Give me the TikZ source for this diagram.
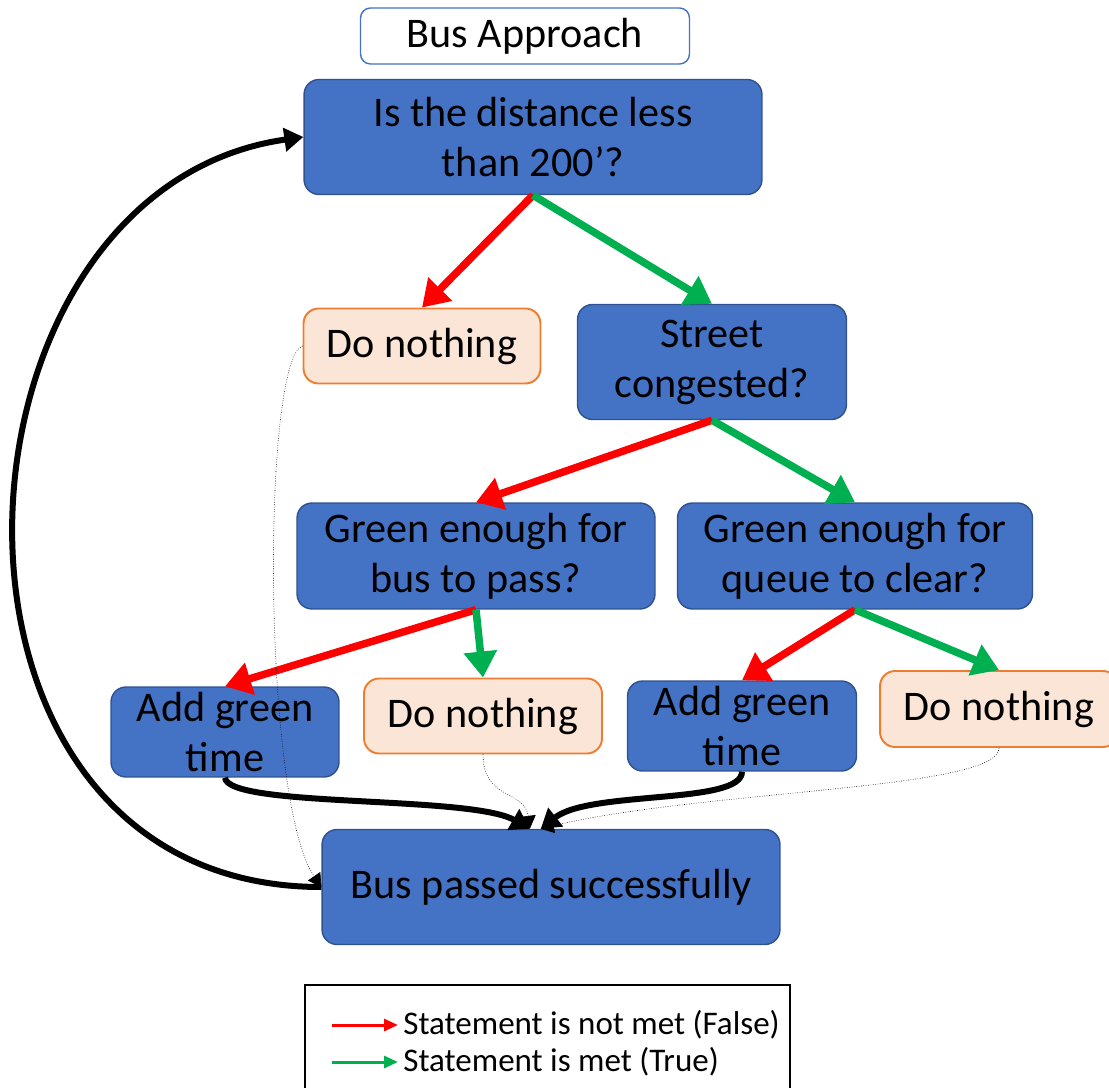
\documentclass[tikz,border=0pt]{standalone}
\usepackage{fontspec}
\setmainfont{Carlito}
\usetikzlibrary{arrows.meta}
\definecolor{boxblue}{HTML}{4472C4}
\definecolor{edgeblue}{HTML}{2F528F}
\definecolor{peach}{HTML}{FBE5D6}
\definecolor{edgeorange}{HTML}{ED7D31}
\definecolor{falsered}{HTML}{FF0000}
\definecolor{truegreen}{HTML}{00B050}
\tikzset{
	bluebox/.style={draw=edgeblue,line width=0.8pt,fill=boxblue,rounded corners=0.3cm,align=center,inner sep=0pt,font=\fontsize{24}{28.4}\selectfont},
	orangebox/.style={draw=edgeorange,line width=1.1pt,fill=peach,rounded corners=0.3cm,align=center,inner sep=0pt,font=\fontsize{24}{28.4}\selectfont},
	titlebox/.style={draw=boxblue,line width=0.8pt,fill=white,rounded corners=0.2cm,align=center,inner sep=0pt,font=\fontsize{24}{28.4}\selectfont},
	falsearrow/.style={draw=falsered,line width=0.15cm,-{Triangle[width=0.64cm,length=0.52cm]},falsered},
	truearrow/.style={draw=truegreen,line width=0.15cm,-{Triangle[width=0.64cm,length=0.52cm]},truegreen},
	backarrow/.style={draw=black,line width=0.12cm,-{Triangle[width=0.46cm,length=0.38cm]}},
	dotline/.style={draw=black,line width=0.35pt,densely dotted,-{Triangle[width=0.3cm,length=0.26cm]}},
	legendtext/.style={inner sep=0.1cm,font=\fontsize{18.8}{21}\selectfont}
}
\begin{document}
\begin{tikzpicture}[x=0.02cm,y=-0.02cm]
			\useasboundingbox (0,0) rectangle (1109,1088);
			\node[titlebox,minimum width=6.58cm,minimum height=1.12cm] (title) at (525,36) {Bus Approach};
			\node[bluebox,minimum width=9.16cm,minimum height=2.3cm] (q1) at (533,137) {Is the distance less\\than 200’?};
			\node[orangebox,minimum width=4.74cm,minimum height=1.5cm] (dn1) at (422,346) {Do nothing};
			\node[bluebox,minimum width=5.38cm,minimum height=2.3cm] (street) at (712,362) {Street\\congested?};
			\node[bluebox,minimum width=7.16cm,minimum height=2.12cm] (gbus) at (476,556) {Green enough for\\bus to pass?};
			\node[bluebox,minimum width=7.1cm,minimum height=2.12cm] (gqueue) at (855,556) {Green enough for\\queue to clear?};
			\node[bluebox,minimum width=4.56cm,minimum height=1.8cm] (ag1) at (225,732) {Add green\\time};
			\node[orangebox,minimum width=4.76cm,minimum height=1.5cm] (dn2) at (483,716) {Do nothing};
			\node[bluebox,minimum width=4.58cm,minimum height=1.8cm] (ag2) at (742,726) {Add green\\time};
			\node[orangebox,minimum width=4.76cm,minimum height=1.52cm] (dn3) at (999,709) {Do nothing};
			\node[bluebox,minimum width=9.16cm,minimum height=2.3cm] (bus) at (551,887) {Bus passed successfully};
			\draw[falsearrow] (q1.south) -- (dn1.north);
			\draw[truearrow] (q1.south) -- (street.north);
			\draw[falsearrow] (street.south) -- (gbus.north);
			\draw[truearrow] (street.south) -- (gqueue.north);
			\draw[falsearrow] (gbus.south) -- (ag1.north);
			\draw[truearrow] (gbus.south) -- (dn2.north);
			\draw[falsearrow] (gqueue.south) -- (ag2.north);
			\draw[truearrow] (gqueue.south) -- (dn3.north);
			\draw[backarrow] (ag1.south) .. controls (228,808) and (470,795) .. (bus.110);
			\draw[backarrow] (ag2.south) .. controls (742,805) and (590,790) .. (bus.100);
			\draw[backarrow] (bus.west) .. controls (-100,887) and (-70,190) .. (q1.west);
			\draw[dotline] (dn1.west) .. controls (262,360) and (262,800) .. (bus.west);
			\draw[dotline] (dn2.south) .. controls (483,800) and (525,790) .. (bus.110);
			\draw[dotline] (dn3.south) .. controls (1000,790) and (700,790) .. (bus.100);
			\draw[line width=1.2pt] (305,985) rectangle (790,1130);
			\coordinate (lf) at (332,1025);
			\coordinate (lt) at (332,1062);
			\node[legendtext,anchor=west] (tf) at (398,1025) {Statement is not met (False)};
			\node[legendtext,anchor=west] (tt) at (398,1062) {Statement is met (True)};
			\draw[falsered,line width=1.7pt,-{Triangle[width=0.24cm,length=0.28cm]}] (lf) -- (tf.west);
			\draw[truegreen,line width=1.7pt,-{Triangle[width=0.24cm,length=0.28cm]}] (lt) -- (tt.west);
			\end{tikzpicture}
\end{document}
